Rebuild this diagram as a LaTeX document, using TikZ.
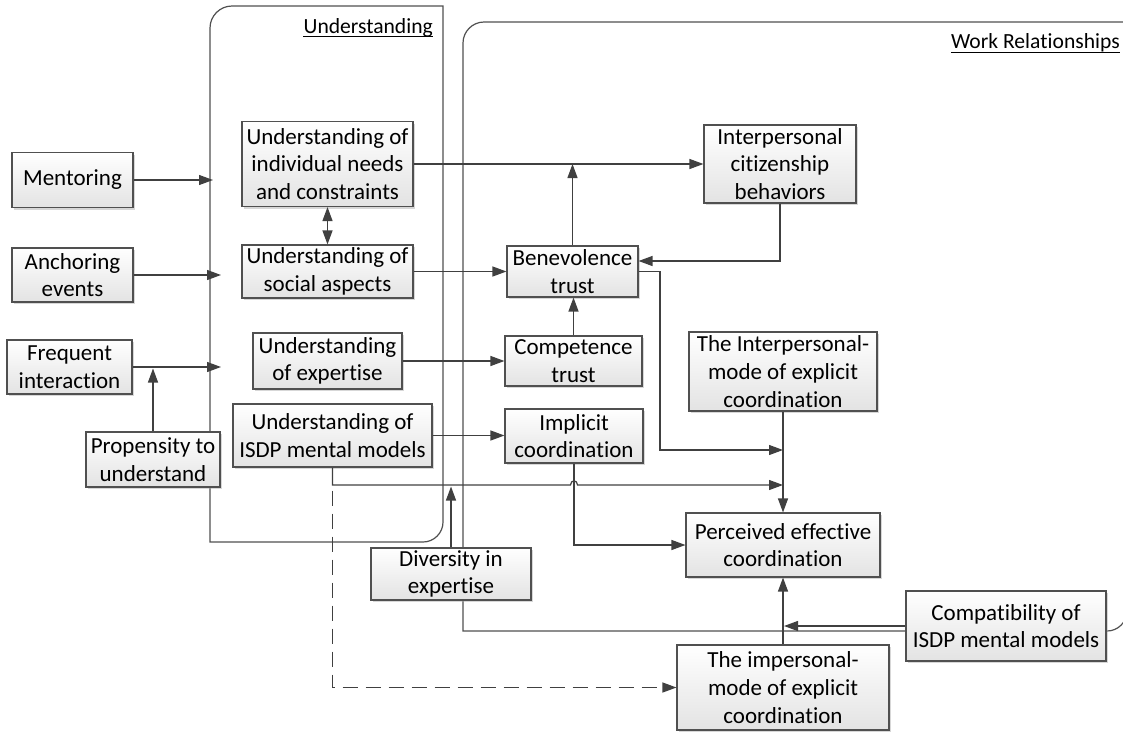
\documentclass[tikz,border=0pt]{standalone}
\usepackage{fontspec}
\setmainfont{Carlito}[Ligatures=NoCommon]
\usetikzlibrary{arrows.meta,shadows}
\newcommand\boxfont{\fontsize{23}{27.7}\selectfont}
\newcommand\titlefont{\fontsize{21.6}{26}\selectfont}
% a zero kern keeps letter pairs such as t-i and f-f apart
\newcommand\nl{\kern0pt }
\definecolor{edgegray}{HTML}{505050}
\definecolor{wiregray}{HTML}{404040}

\begin{document}
\begin{tikzpicture}[x=1pt,y=-1pt,
  box/.style={draw=edgegray, line width=1.1pt, top color=white, bottom color=black!11,
    drop shadow={shadow xshift=2pt,shadow yshift=-2pt,fill=black!35,opacity=0.45},
    inner sep=0pt, align=center, font=\boxfont, text=black},
  wire/.style={draw=wiregray, line width=1.2pt, -{Triangle[length=14pt,width=10pt]}},
  panel/.style={draw=edgegray, line width=1.2pt},
  paneltitle/.style={inner sep=0pt, font=\titlefont}]

\useasboundingbox (0,0) rectangle (1123,731);

% ---- containers ----
\draw[panel] (210,542) -- (210,28) .. controls (210,15.9) and (219.9,6) .. (232,6)
  -- (443,6) -- (443,522) .. controls (443,533) and (434,542) .. (423,542) -- cycle;
\node[paneltitle, anchor=base east] (utitle) at (433,33) {Understanding};
\draw[line width=1pt] ([yshift=-3pt]utitle.base west) -- ([yshift=-3pt]utitle.base east);

\draw[panel] (463,43) -- (463,631) -- (1107,631) .. controls (1118,631) and (1127,622) .. (1127,611)
  -- (1127,22) -- (484,22) .. controls (472.4,22) and (463,31.6) .. (463,43) -- cycle;
\node[paneltitle, anchor=base east] (wtitle) at (1120,48) {Work Rela\nl tionships};
\draw[line width=1pt] ([yshift=-4pt]wtitle.base west) -- ([yshift=-4pt]wtitle.base east);

% ---- antecedents ----
\node[box, minimum width=121pt, minimum height=55pt] (ment) at (72.5,180) {Mentoring};
\node[box, minimum width=121pt, minimum height=54pt] (anch) at (72.5,275) {Anchoring\\events};
\node[box, minimum width=125pt, minimum height=54pt] (freq) at (69.5,367) {Frequent\\interaction};
\node[box, minimum width=134pt, minimum height=55pt] (prop) at (153,459.5) {Propensity to\\understand};

% ---- understanding ----
\node[box, minimum width=171pt, minimum height=85pt] (uneeds) at (327.5,164) {Understanding of\\individual needs\\and constraints};
\node[box, minimum width=171pt, minimum height=53pt] (usocial) at (327.5,271.5) {Understanding of\\social aspects};
\node[box, minimum width=149pt, minimum height=56pt] (uexp) at (327.5,361) {Understanding\\of exper\nl tise};
\node[box, minimum width=199pt, minimum height=63pt] (uisdp) at (332.5,435.5) {Understanding of\\ISDP mental models};

% ---- work relationships ----
\node[box, minimum width=152pt, minimum height=78pt] (cit) at (780,164) {Interpersonal\\ci\nl tizenship\\behaviors};
\node[box, minimum width=131pt, minimum height=51pt] (bene) at (572.5,271.5) {Benevolence\\trust};
\node[box, minimum width=137pt, minimum height=50pt] (comp) at (573.5,361) {Competence\\trust};
\node[box, minimum width=138pt, minimum height=54pt] (impl) at (574,436) {Implicit\\coordina\nl tion};
\node[box, minimum width=188pt, minimum height=79pt] (inter) at (783,371.5) {The Interpersonal-\\mode of explicit\\coordina\nl tion};
\node[box, minimum width=194pt, minimum height=64pt] (perc) at (783,545) {Perceived ef\nl fec\nl tive\\coordina\nl tion};
\node[box, minimum width=160pt, minimum height=52pt] (div) at (451,574) {Diversity in\\exper\nl tise};
\node[box, minimum width=200pt, minimum height=70pt] (compat) at (1006,626) {Compa\nl tibili\nl ty of\\ISDP mental models};
\node[box, minimum width=212pt, minimum height=85pt] (imper) at (783,687.5) {The impersonal-\\mode of explicit\\coordina\nl tion};

% ---- free ends of connectors ----
\coordinate (mentT) at (213,180);
\coordinate (anchT) at (221,275);
\coordinate (freqT) at (221,367);
\coordinate (propT) at (153,368.5);
\coordinate (benT) at (783,450);
\coordinate (isdpT) at (783,485);
\coordinate (divT) at (451,486.5);
\coordinate (compatT) at (784,626);

% ---- connectors ----
\draw[wire] (ment.east) -- (mentT);
\draw[wire] (anch.east) -- (anchT);
\draw[wire] (freq.east) -- (freqT);
\draw[wire] (prop.north) -- (propT);

\draw[wire, {Triangle[length=14pt,width=10pt]}-{Triangle[length=14pt,width=10pt]}] (uneeds.south) -- (usocial.north);
\draw[wire] (uneeds.east) -- (cit.west);
\draw[wire] (usocial.east) -- (bene.west);
\draw[wire] (uexp.east) -- (comp.west);
\draw[wire] (uisdp.east) -- (uisdp.east -| impl.west);

\draw[wire] (bene.north) -- (bene.north |- cit.west);
\draw[wire] (comp.north) -- (comp.north |- bene.south);
\draw[wire] (cit.south) |- ([yshift=10.5pt]bene.east);
\draw[wire] (bene.east) -| (660,450) -- (benT);
\draw[wire] (inter.south) -- (perc.north);
\draw[wire] (impl.south) |- (perc.west);
\draw[wire] (uisdp.south) |- (570.5,485) .. controls (570.5,479.5) and (577.5,479.5) .. (577.5,485) -- (isdpT);
\draw[wire, dash pattern=on 15pt off 8pt] (uisdp.south) |- (imper.west);
\draw[wire] (div.north) -- (divT);
\draw[wire] (compat.west) -- (compatT);
\draw[wire] (imper.north) -- (perc.south);

\end{tikzpicture}
\end{document}
